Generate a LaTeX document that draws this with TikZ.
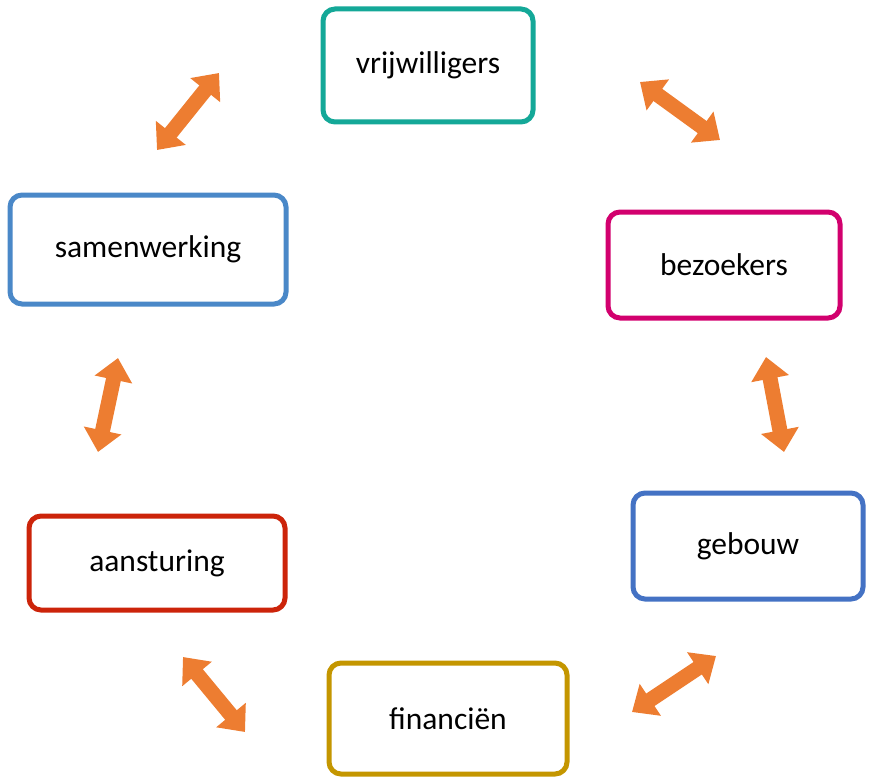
\documentclass[tikz,border=0pt]{standalone}
\usepackage{fontspec}
\setmainfont{Carlito}
\usetikzlibrary{arrows.meta}
\definecolor{cteal}{RGB}{20,168,152}
\definecolor{cmag}{RGB}{210,0,110}
\definecolor{cblue}{RGB}{68,114,196}
\definecolor{cgold}{RGB}{196,150,0}
\definecolor{cred}{RGB}{204,36,10}
\definecolor{csteel}{RGB}{74,136,200}
\definecolor{corange}{RGB}{237,125,49}
\tikzset{
  box/.style={draw=#1, line width=5pt, rounded corners=12pt, fill=white,
    inner sep=0pt, font=\fontsize{31.5}{37}\selectfont, text=black},
  dbl/.style={draw=corange, line width=15pt,
    {Triangle[width=37pt,length=22pt]}-{Triangle[width=37pt,length=22pt]}}
}
\begin{document}
\begin{tikzpicture}[x=1pt,y=-1pt]
\useasboundingbox (0,0) rectangle (869,778);
\node[box=cteal, minimum width=210pt, minimum height=113pt] (vrij) at (428,65.5) {vrijwilligers};
\node[box=cmag, minimum width=232pt, minimum height=106pt] (bez) at (724,265) {bezoekers};
\node[box=cblue, minimum width=230pt, minimum height=106pt] (geb) at (748,546) {gebouw};
\node[box=cgold, minimum width=238pt, minimum height=111pt] (fin) at (448,718.5) {financiën};
\node[box=cred, minimum width=256pt, minimum height=94pt] (aan) at (157,563) {aansturing};
\node[box=csteel, minimum width=276pt, minimum height=109pt] (sam) at (148,249.5) {samenwerking};
\coordinate (a1) at (157,150); \coordinate (b1) at (219,73);
\coordinate (a2) at (640,82); \coordinate (b2) at (720,140);
\coordinate (a3) at (766,357); \coordinate (b3) at (784,452);
\coordinate (a4) at (716,656); \coordinate (b4) at (632,712);
\coordinate (a5) at (183,657); \coordinate (b5) at (245,732);
\coordinate (a6) at (118,358); \coordinate (b6) at (98,452);
\foreach \i in {1,...,6} \draw[dbl] (a\i) -- (b\i);
\end{tikzpicture}
\end{document}
